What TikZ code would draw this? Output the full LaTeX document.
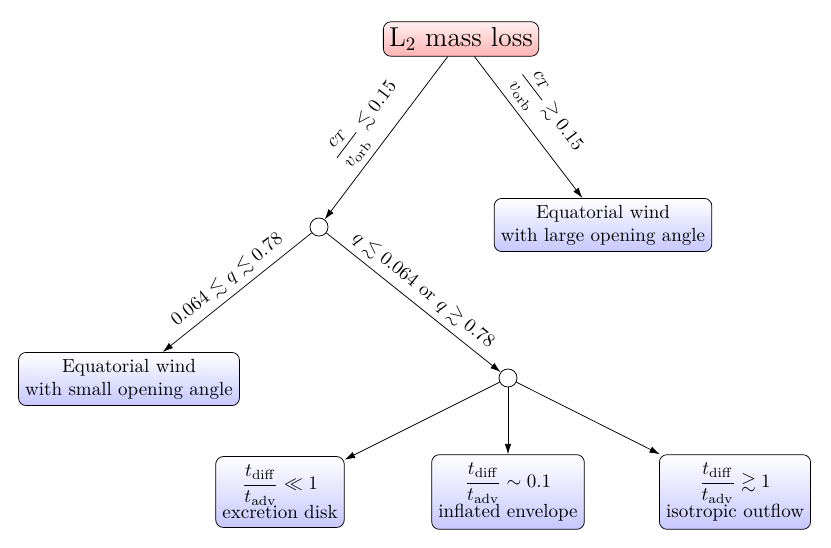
\documentclass[tikz,border=0pt]{standalone}
\usepackage{amsmath,amssymb}
\usetikzlibrary{arrows.meta}
\begin{document}
\begin{tikzpicture}[x=0.5263pt,y=-0.5263pt,
  bluebox/.style={draw, rounded corners=4pt, top color=white, bottom color=blue!22, align=center, inner xsep=3.5pt, inner ysep=3.5pt},
  redbox/.style={draw, rounded corners=4pt, top color=red!6, bottom color=red!30, inner sep=3pt, font=\Large},
  junct/.style={draw, circle, fill=white, minimum size=9.5pt, inner sep=0pt},
  arr/.style={-{Latex[length=5.5pt,width=3.5pt]}},
  lab/.style={midway, sloped, above}]
\useasboundingbox (0,0) rectangle (831,548);
\node[redbox] (root) at (461,39) {L$_2$ mass loss};
\node[bluebox] (large) at (603,225) {Equatorial wind\\with large opening angle};
\node[junct] (c1) at (319,227) {};
\node[bluebox] (small) at (129,379) {Equatorial wind\\with small opening angle};
\node[junct] (c2) at (508,378) {};
\node[bluebox, inner ysep=4.5pt] (b1) at (280,492) {$\dfrac{t_{\mathrm{diff}}}{t_{\mathrm{adv}}} \ll 1$\\[-1pt]excretion disk};
\node[bluebox, inner ysep=4.5pt] (b2) at (508,492) {$\dfrac{t_{\mathrm{diff}}}{t_{\mathrm{adv}}} \sim 0.1$\\[-1pt]inflated envelope};
\node[bluebox, inner ysep=4.5pt] (b3) at (735,492) {$\dfrac{t_{\mathrm{diff}}}{t_{\mathrm{adv}}} \gtrsim 1$\\[-1pt]isotropic outflow};
\draw[arr] (root) -- node[lab] {$\dfrac{c_T}{v_{\mathrm{orb}}} \lesssim 0.15$} (c1);
\draw[arr] (root) -- node[lab] {$\dfrac{c_T}{v_{\mathrm{orb}}} \gtrsim 0.15$} (large);
\draw[arr] (c1) -- node[lab] {$0.064 \lesssim q \lesssim 0.78$} (small);
\draw[arr] (c1) -- node[lab] {$q \lesssim 0.064$ or $q \gtrsim 0.78$} (c2);
\draw[arr] (c2) -- (b1);
\draw[arr] (c2) -- (b2);
\draw[arr] (c2) -- (b3);
\end{tikzpicture}
\end{document}
